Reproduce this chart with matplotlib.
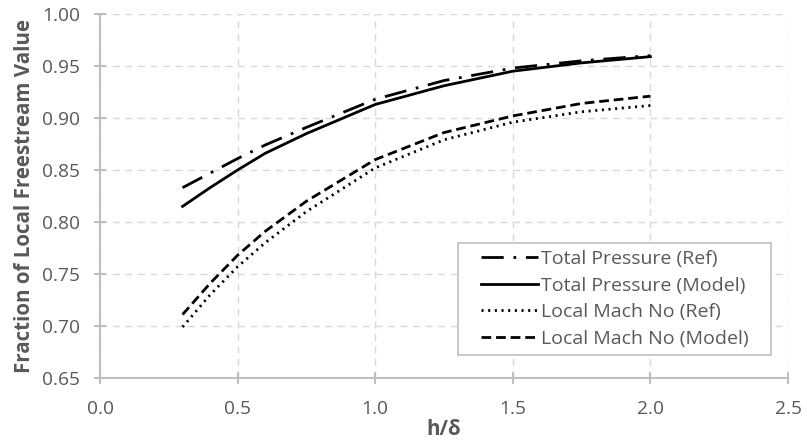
import matplotlib
matplotlib.use("Agg")
import matplotlib.pyplot as plt
from matplotlib.patches import Rectangle

# values
h_delta = [0.3, 0.4, 0.5, 0.6, 0.75, 1.0, 1.25, 1.5, 1.75, 2.0]
tp_ref = [0.833, 0.847, 0.861, 0.874, 0.891, 0.918, 0.936, 0.948, 0.955, 0.960]
tp_model = [0.815, 0.833, 0.850, 0.866, 0.885, 0.913, 0.931, 0.945, 0.953, 0.959]
lm_ref = [0.699, 0.730, 0.757, 0.780, 0.810, 0.852, 0.879, 0.896, 0.906, 0.912]
lm_model = [0.711, 0.741, 0.768, 0.791, 0.820, 0.860, 0.886, 0.902, 0.914, 0.921]

x_ticks = [0.0, 0.5, 1.0, 1.5, 2.0, 2.5]
y_ticks = [0.65, 0.70, 0.75, 0.80, 0.85, 0.90, 0.95, 1.00]

GREY_TXT = "#595959"
GREY_AX = "#bfbfbf"
GREY_GRID = "#d9d9d9"

plt.rcParams['font.family'] = ['Open Sans', 'DejaVu Sans']
plt.rcParams['lines.scale_dashes'] = False

fig = plt.figure(figsize=(8.07, 4.48), dpi=100)
ax = fig.add_axes([100/807, 1 - 378/448, 688/807, 364/448])

lw = 2.0
ax.plot(h_delta, tp_ref, color='black', lw=lw, linestyle=(0, (16, 7, 2, 7)),
        label="Total Pressure (Ref)")
ax.plot(h_delta, tp_model, color='black', lw=lw, linestyle='-',
        label="Total Pressure (Model)")
ax.plot(h_delta, lm_ref, color='black', lw=lw, linestyle=(0, (1.5, 3.3)),
        label="Local Mach No (Ref)")
ax.plot(h_delta, lm_model, color='black', lw=lw, linestyle=(0, (7, 3.5)),
        label="Local Mach No (Model)")

ax.set_xlim(0, 2.5)
ax.set_ylim(0.65, 1.0)
ax.set_xticks(x_ticks)
ax.set_yticks(y_ticks)
ax.set_xticklabels(["{:.1f}".format(v) for v in x_ticks])
ax.set_yticklabels(["{:.2f}".format(v) for v in y_ticks])

ax.grid(True, color=GREY_GRID, linestyle=(0, (5, 4)), linewidth=1.0)
ax.set_axisbelow(True)
for side in ('top', 'right'):
    ax.spines[side].set_visible(False)
for side in ('left', 'bottom'):
    ax.spines[side].set_color(GREY_AX)
    ax.spines[side].set_linewidth(1.5)
ax.tick_params(direction='inout', length=9, width=1.5, color=GREY_AX,
               labelcolor=GREY_TXT, labelsize=13.8)
ax.tick_params(axis='y', pad=10)
ax.tick_params(axis='x', pad=11)

ax.set_xlabel("h/δ", fontsize=14.8, fontweight='bold', color=GREY_TXT, labelpad=1)
ax.set_ylabel("Fraction of Local Freestream Value", fontsize=14.8,
              fontweight='bold', color=GREY_TXT, labelpad=5)

leg = ax.legend(loc='upper right', bbox_to_anchor=(0.952, 0.371),
                borderaxespad=0, fontsize=14, handlelength=2.9,
                handletextpad=0.15, labelspacing=0.45, borderpad=0.35,
                frameon=False)
for t in leg.get_texts():
    t.set_color(GREY_TXT)

# legend frame: wider side padding than top/bottom, like the original
fig.canvas.draw()
bb = leg.get_window_extent()
side_pad = 16
(x0, y0), (x1, y1) = ax.transAxes.inverted().transform(
    [(bb.x0 - side_pad, bb.y0), (bb.x1 + side_pad, bb.y1)])
frame = Rectangle((x0, y0), x1 - x0, y1 - y0, transform=ax.transAxes,
                  facecolor='white', edgecolor=GREY_AX, linewidth=1.2,
                  zorder=4, clip_on=False)
ax.add_patch(frame)
leg.set_zorder(5)

fig.savefig("out.png", dpi=100)
